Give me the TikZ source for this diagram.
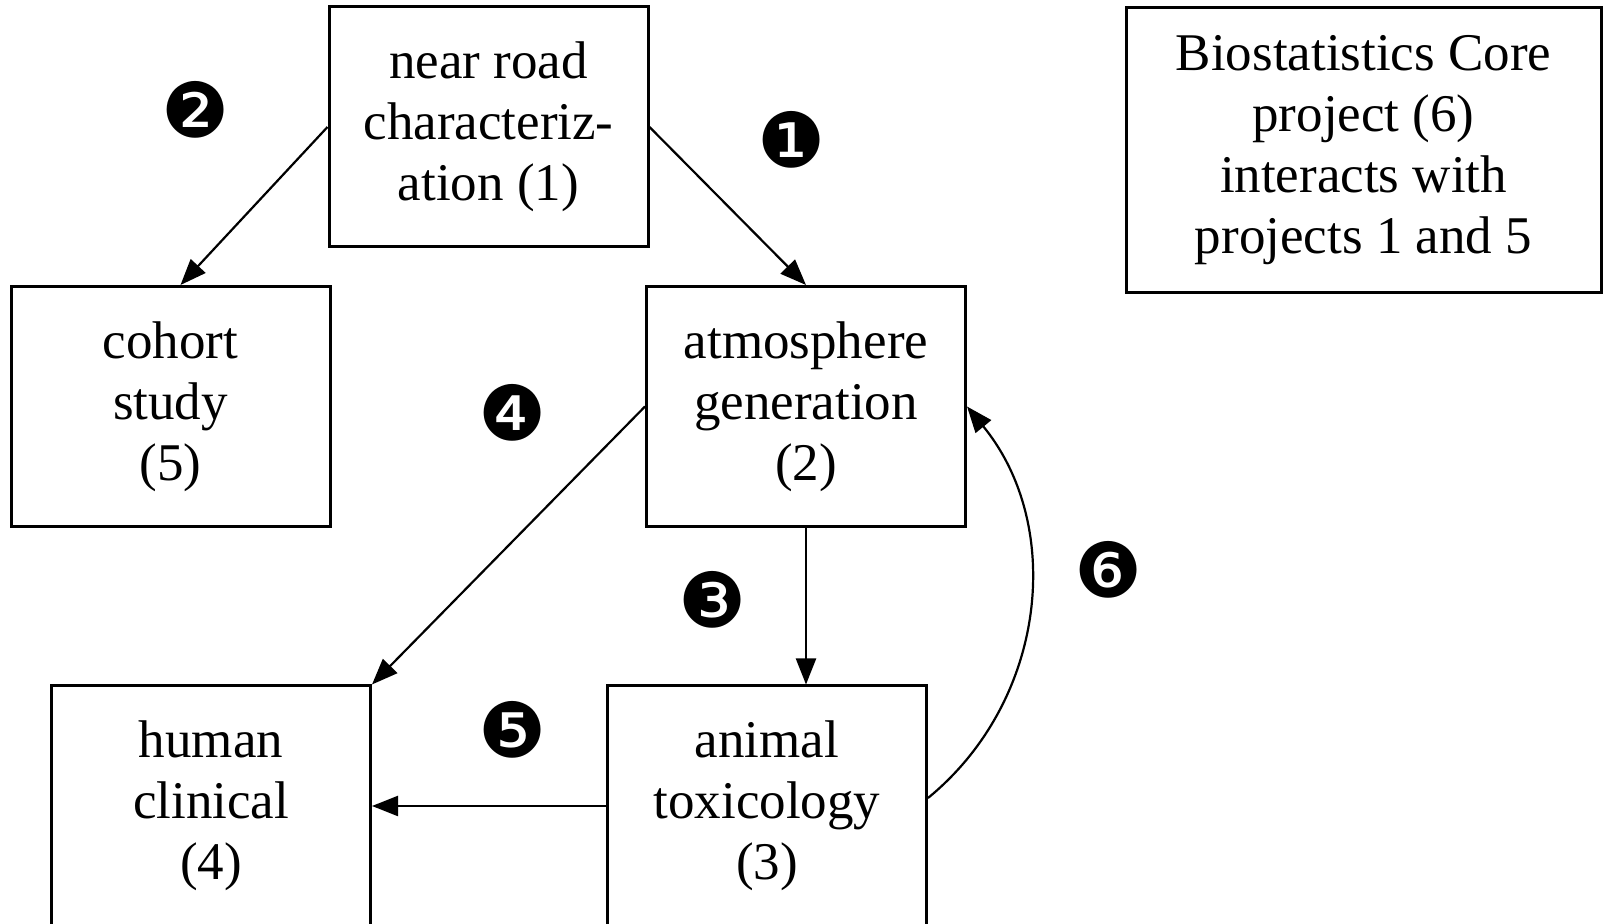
\documentclass[tikz,border=0pt]{standalone}
\usepackage{fontspec}
\setmainfont{Liberation Serif}
\newfontfamily\markfont{DejaVu Sans}
\usetikzlibrary{arrows.meta}
\begin{document}
\begin{tikzpicture}[x=0.5pt,y=-0.5pt,
    project/.style={draw,line width=1.5pt,align=center,inner sep=0pt,
      minimum width=159.5pt,minimum height=120pt,
      font=\fontsize{26.5pt}{30.5pt}\selectfont},
    marker/.style={inner sep=0pt,font=\markfont\fontsize{38pt}{38pt}\selectfont},
    link/.style={line width=1.1pt,-{Triangle[length=13pt,width=10pt]}}]
      \useasboundingbox (0,0) rectangle (1603,924);
      \clip (0,0) rectangle (1603,924);
      \draw
        (488.5,127) node[project] (near){near road\\characteriz-\\ation (1)}
        (170.5,406.5) node[project] (cohort){cohort\\study\\(5)}
        (806,406.5) node[project] (atmos){atmosphere\\generation\\(2)}
        (211,806) node[project] (human){human\\clinical\\(4)}
        (767,806) node[project] (animal){animal\\toxicology\\(3)}
        (1363.5,150.5) node[project,minimum width=237.5pt,minimum height=142.5pt] (biostat){Biostatistics Core\\project (6)\\interacts with\\projects 1 and 5};
      \draw
        (792,140) node[marker] (m1){❶}
        (196,110) node[marker] (m2){❷}
        (713,600) node[marker] (m3){❸}
        (513,413) node[marker] (m4){❹}
        (513,730) node[marker] (m5){❺}
        (1109,570) node[marker] (m6){❻};
      \begin{scope}[link]
        \draw (near.west) to ([xshift=5pt]cohort.north);
        \draw (near.east) to (atmos.north);
        \draw (atmos.west) to (human.north east);
        \draw (atmos.south) to (atmos.south |- animal.north);
        \draw (animal.west) to (animal.west -| human.east);
        \draw ([yshift=4pt]animal.east) to[bend right=45] (atmos.east);
      \end{scope}
    \end{tikzpicture}
\end{document}
